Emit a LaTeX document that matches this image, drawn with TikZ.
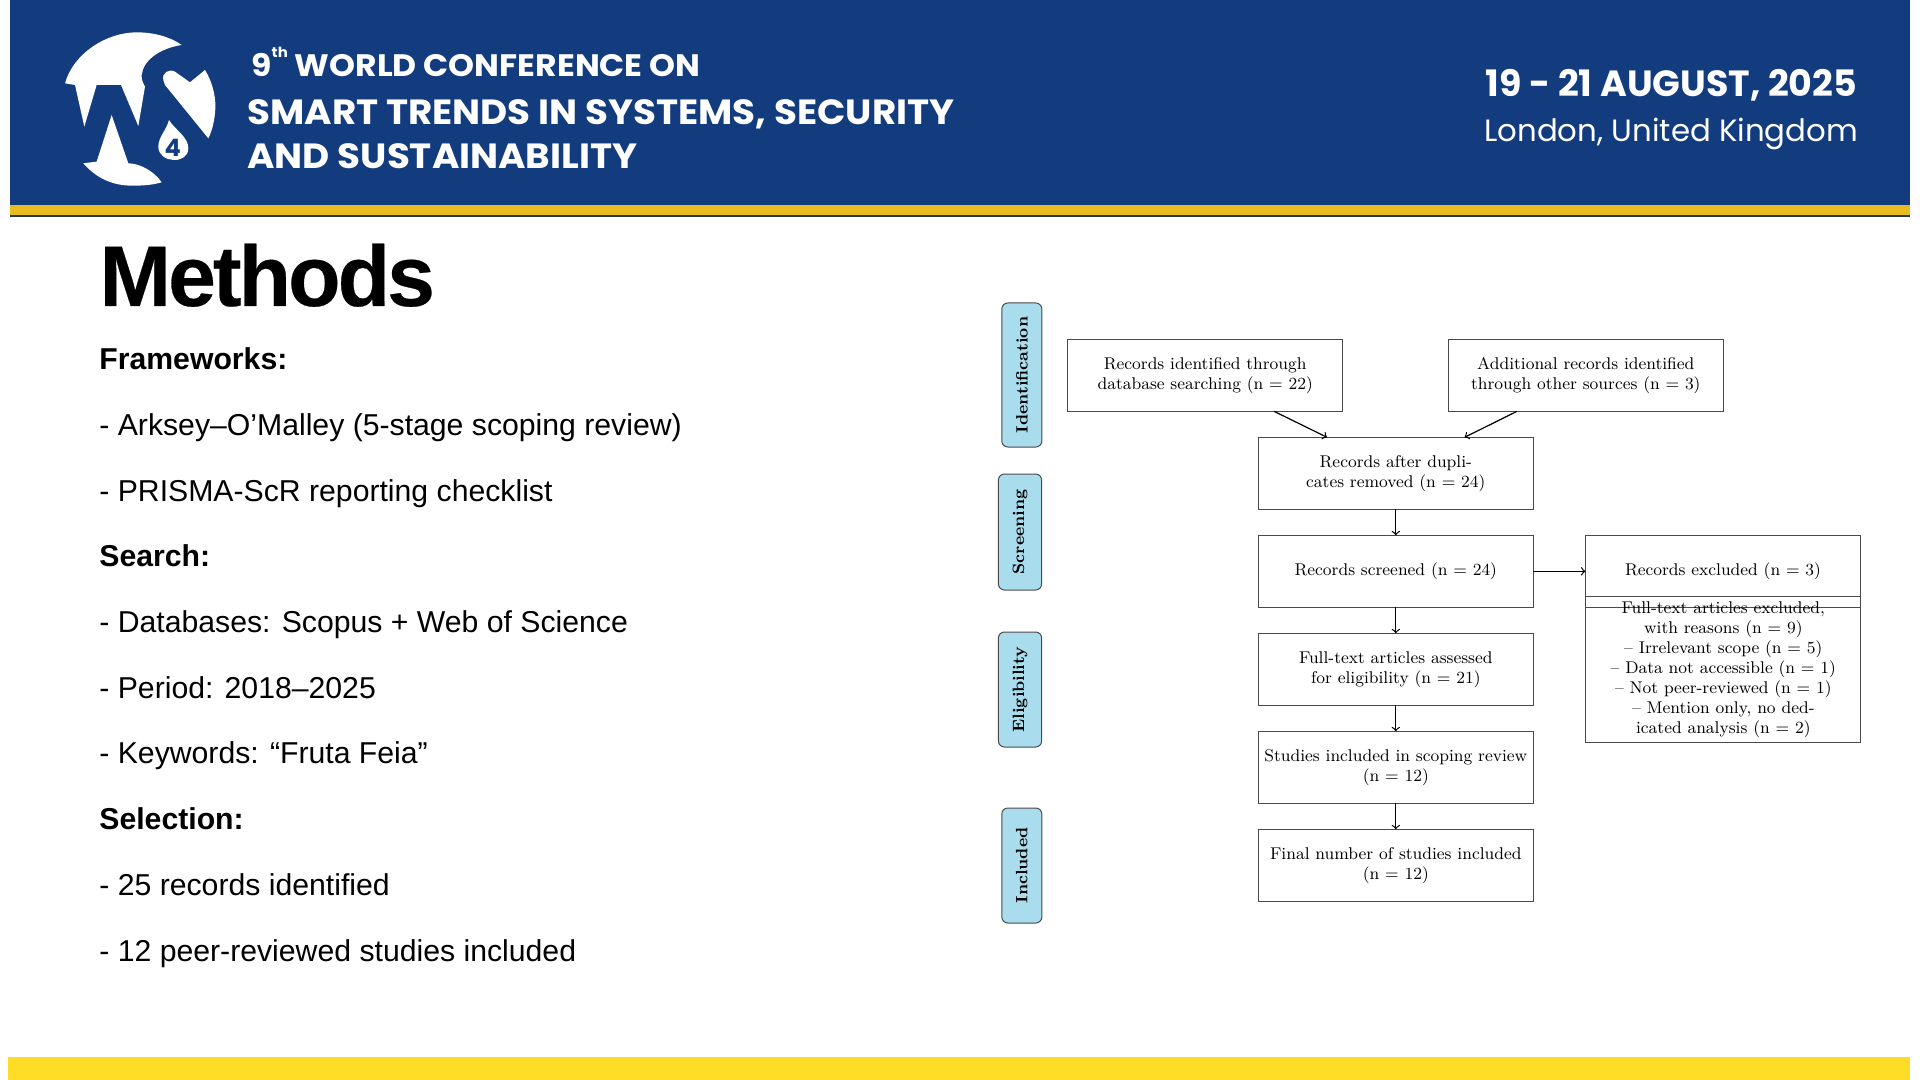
\documentclass[tikz,border=0pt]{standalone}
\usepackage{fontspec}
\usetikzlibrary{positioning}
\newfontfamily\headfont{Poppins}
\newfontfamily\headwide[FakeStretch=1.065]{Poppins}
\newfontfamily\bodyfont{Liberation Sans}
\newfontfamily\titlefont[LetterSpace=-3.5,BoldFeatures={FakeBold=.3}]{Liberation Sans}
\definecolor{bandblue}{HTML}{123C7E}
\definecolor{banddark}{HTML}{1F3B52}
\definecolor{bandgold}{HTML}{E8BC1E}
\definecolor{footgold}{HTML}{FFDC26}
\definecolor{pillblue}{HTML}{A9DCEC}
\definecolor{boxline}{HTML}{4A4A4A}
\tikzset{
  headtext/.style={anchor=base west, inner sep=0pt, text=white, font=\headfont\bfseries},
  bodytext/.style={anchor=base west, inner sep=0pt, font=\bodyfont\fontsize{15.1}{18}\selectfont},
  headline/.style={bodytext, font=\bodyfont\bfseries\fontsize{15.1}{18}\selectfont},
  flowbox/.style={draw=boxline, line width=.45pt, outer sep=0pt, minimum width=137.6pt, minimum height=36pt,
    inner sep=0pt, align=center, font=\fontsize{8.5}{10}\selectfont},
  stagepill/.style={draw=boxline, line width=.5pt, fill=pillblue, rounded corners=3pt, rotate=90,
    minimum height=20pt, inner sep=0pt, font=\bfseries\fontsize{8.2}{10}\selectfont},
  flowarrow/.style={->, line width=.6pt, black},
}
\begin{document}
\begin{tikzpicture}[x=.5pt,y=-.5pt]
\useasboundingbox (0,0) rectangle (1920,1080);
% bands
\fill[bandblue] (10,0) rectangle (1910,205);
\fill[bandgold] (10,205) rectangle (1910,215);
\fill[banddark] (10,215) rectangle (1910,217);
\fill[footgold] (8,1057) rectangle (1910,1080);
% logo
\begin{scope}[shift={(50,20)},x=.5pt/3,y=-.5pt/3]
  \fill[white] (45,190) .. controls (70,100) and (170,37) .. (260,37)
    .. controls (310,37) and (360,50) .. (395,75)
    .. controls (330,85) and (280,120) .. (275,165)
    .. controls (274,180) and (280,190) .. (285,200)
    -- (265,318) -- (213,195) -- (140,195) -- (103,320) -- (75,195) -- cycle;
  \fill[white] (340,180) .. controls (335,160) and (355,145) .. (375,155)
    -- (420,187) -- (465,150) .. controls (490,190) and (500,240) .. (495,280)
    .. controls (492,310) and (485,335) .. (475,355) -- (345,195) -- cycle;
  \fill[white] (185,285) -- (235,430) .. controls (265,430) and (310,450) .. (335,487)
    .. controls (300,497) and (270,497) .. (240,497)
    .. controls (180,495) and (135,470) .. (100,430) -- (140,425) -- cycle;
  \fill[white] (357,300) .. controls (375,330) and (415,350) .. (415,385)
    .. controls (415,435) and (325,430) .. (325,380)
    .. controls (325,350) and (350,330) .. (357,300) -- cycle;
  \node[text=bandblue, inner sep=0pt, font=\headfont\bfseries\fontsize{12}{12}\selectfont] (logofour) at (368,383) {4};
\end{scope}
% header texts
\node[headtext, font=\headwide\bfseries\fontsize{15.5}{18}\selectfont] (confa) at (251,77) {9\raisebox{1.1ex}{\fontsize{7}{7}\selectfont th} WORLD CONFERENCE ON};
\node[headtext, font=\headwide\bfseries\fontsize{17.5}{20}\selectfont] (confb) at (247,125) {SMART TRENDS IN SYSTEMS, SECURITY};
\node[headtext, font=\headwide\bfseries\fontsize{17.5}{20}\selectfont] (confc) at (247,169) {AND SUSTAINABILITY};
\node[headtext, font=\headfont\bfseries\fontsize{18.2}{20}\selectfont] (dates) at (1485,97) {19 - 21 AUGUST, 2025};
\node[headtext, font=\headfont\fontsize{15.4}{18}\selectfont] (place) at (1484,142) {London, United Kingdom};
% left column
\node[anchor=base west, inner sep=0pt, font=\titlefont\bfseries\fontsize{43}{48}\selectfont] (title) at (99,306) {Methods};
\node[headline] (frame) at (99,370) {Frameworks:};
\node[bodytext] (arksey) at (99,435) {- Arksey–O’Malley (5-stage scoping review)};
\node[bodytext] (prisma) at (99,501) {- PRISMA-ScR reporting checklist};
\node[headline] (search) at (99,566) {Search:};
\node[bodytext] (dbases) at (99,632) {- Databases: Scopus + Web of Science};
\node[bodytext] (period) at (99,698) {- Period: 2018–2025};
\node[bodytext] (keyw) at (99,763) {- Keywords: “Fruta Feia”};
\node[headline] (select) at (99,829) {Selection:};
\node[bodytext] (found) at (99,895) {- 25 records identified};
\node[bodytext] (peer) at (99,961) {- 12 peer-reviewed studies included};
% flow boxes
\node[flowbox] (recdb) at (1205.2,375.3) {Records identified through\\database searching (n = 22)};
\node[flowbox] (recother) at (1585.8,375.3) {Additional records identified\\through other sources (n = 3)};
\node[flowbox] (recdup) at (1395.8,473.3) {Records after dupli-\\cates removed (n = 24)};
\node[flowbox, below=13pt of recdup] (recscr) {Records screened (n = 24)};
\node[flowbox, below=13pt of recscr] (fullass) {Full-text articles assessed\\for eligibility (n = 21)};
\node[flowbox, below=13pt of fullass] (studinc) {Studies included in scoping review\\(n = 12)};
\node[flowbox, below=13pt of studinc] (finalinc) {Final number of studies included\\(n = 12)};
\node[flowbox, right=26pt of recscr] (recexc) {Records excluded (n = 3)};
\node[flowbox, minimum height=73pt] (fullexc) at (1723.3,669.3) {Full-text articles excluded,\\with reasons (n = 9)\\-- Irrelevant scope (n = 5)\\-- Data not accessible (n = 1)\\-- Not peer-reviewed (n = 1)\\-- Mention only, no ded-\\icated analysis (n = 2)};
% stage pills
\node[stagepill, minimum width=72pt] (identif) at (1021.8,375) {Identification};
\node[stagepill, minimum width=58pt, minimum height=21.6pt] (screen) at (1020,532) {Screening};
\node[stagepill, minimum width=57.5pt, minimum height=21.6pt] (eligib) at (1020,689.5) {Eligibility};
\node[stagepill, minimum width=57.5pt] (incl) at (1021.8,865.5) {Included};
% arrows
\draw[flowarrow] ([xshift=34.4pt]recdb.south) -- ([xshift=-34.4pt]recdup.north);
\draw[flowarrow] ([xshift=-34.4pt]recother.south) -- ([xshift=34.4pt]recdup.north);
\draw[flowarrow] (recdup) -- (recscr);
\draw[flowarrow] (recscr) -- (fullass);
\draw[flowarrow] (fullass) -- (studinc);
\draw[flowarrow] (studinc) -- (finalinc);
\draw[flowarrow] (recscr) -- (recexc);
\end{tikzpicture}
\end{document}
